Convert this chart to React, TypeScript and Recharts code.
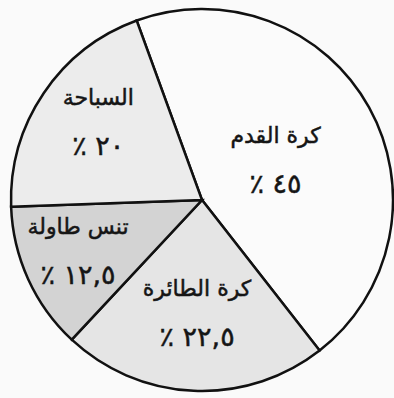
import { PieChart, Pie, Cell } from "recharts";

const sports = ["كرة القدم", "كرة الطائرة", "تنس طاولة", "السباحة"];
const shares = [45, 22.5, 12.5, 20];
const shareLabels = ["٪ ٤٥", "٪ ٢٢,٥", "٪ ١٢,٥", "٪ ٢٠"];

const fills = ["#fbfbfb", "#e5e5e5", "#d3d3d3", "#ececec"];
// label placement: share of radius, and a small turn off the slice middle (degrees)
const labelR = [0.44, 0.59, 0.7, 0.68];
const labelTurn = [0, 0, -2.5, -3];

const data = sports.map((name, i) => ({ name, value: shares[i], pct: shareLabels[i] }));

const RAD = Math.PI / 180;

function SliceLabel(props: any) {
  const { cx, cy, midAngle, outerRadius, index } = props;
  const r = outerRadius * labelR[index];
  const a = (midAngle + labelTurn[index]) * RAD;
  const x = cx + r * Math.cos(-a);
  const y = cy + r * Math.sin(-a);
  return (
    <g fontFamily="DejaVu Sans" fill="#151515" stroke="#151515" strokeWidth={0.5}>
      <text x={x} y={y - 24} textAnchor="middle" dominantBaseline="central" direction="rtl" fontSize={22}>
        {sports[index]}
      </text>
      <text x={x} y={y + 24} textAnchor="middle" dominantBaseline="central" fontSize={27}>
        {shareLabels[index]}
      </text>
    </g>
  );
}

export default function App() {
  return (
    <div style={{ position: "fixed", left: 0, top: 0, width: 394, height: 398, background: "#fafafa" }}>
      <PieChart width={394} height={398} margin={{ top: 0, right: 0, bottom: 0, left: 0 }}>
        <Pie
          data={data}
          dataKey="value"
          cx={202}
          cy={200}
          outerRadius={191}
          startAngle={110}
          endAngle={-250}
          stroke="#111"
          strokeWidth={2.5}
          label={SliceLabel}
          labelLine={false}
          isAnimationActive={false}
        >
          {data.map((d, i) => <Cell key={d.name} fill={fills[i]} />)}
        </Pie>
      </PieChart>
    </div>
  );
}
